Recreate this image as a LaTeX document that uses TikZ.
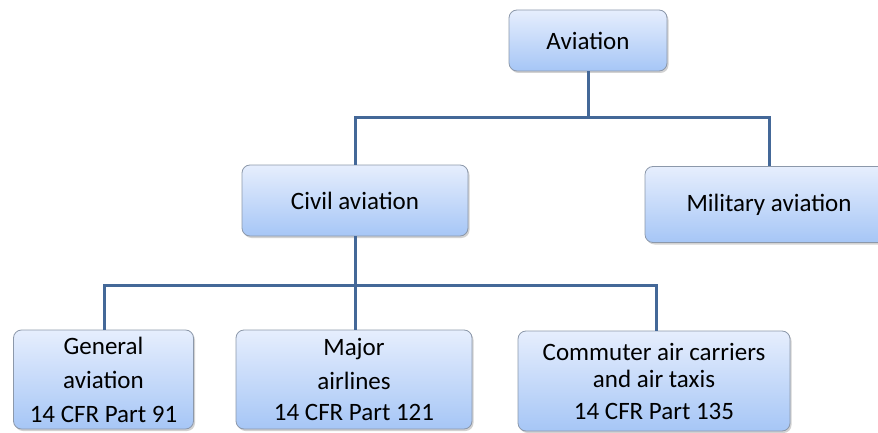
\documentclass[tikz,border=0pt]{standalone}
\usepackage{fontspec}
\setmainfont{Carlito}
\usetikzlibrary{shadows}
\definecolor{boxtop}{RGB}{230,238,253}
\definecolor{boxbot}{RGB}{166,198,246}
\definecolor{boxedge}{RGB}{140,152,170}
\definecolor{conncol}{RGB}{68,104,152}
\tikzset{
  orgbox/.style={rectangle, rounded corners=8pt, draw=boxedge, line width=0.8pt,
    top color=boxtop, bottom color=boxbot, align=center, inner sep=0pt,
    drop shadow={shadow xshift=1.5pt, shadow yshift=-2pt, fill=black!35, opacity=0.5},
    font=\fontsize{25}{34}\selectfont},
  conn/.style={draw=conncol, line width=3pt}
}
\begin{document}
\begin{tikzpicture}[x=1pt,y=-1pt]
\useasboundingbox (0,0) rectangle (878,433);
% boxes
\node[orgbox, minimum width=158pt, minimum height=61pt] (av) at (588,40.5) {Aviation};
\node[orgbox, minimum width=226pt, minimum height=71pt] (civ) at (355,200.5) {Civil aviation};
\node[orgbox, minimum width=248pt, minimum height=76pt] (mil) at (769,204.5) {Military aviation};
\node[orgbox, minimum width=180pt, minimum height=99pt] (gen) at (103.5,379.5) {General\\aviation\\14 CFR Part 91};
\node[orgbox, minimum width=236pt, minimum height=99pt] (maj) at (354,379.5) {Major\\airlines\\[-3pt]14 CFR Part 121};
\node[orgbox, minimum width=272pt, minimum height=100pt] (com) at (654,381) {Commuter air carriers\\[-7pt]and air taxis\\[-2pt]14 CFR Part 135};
% junctions
\coordinate (j1) at (588,118);
\coordinate (j2) at (355,285);
% connectors
\draw[conn] (av.south) -- (j1);
\draw[conn] (civ.north) |- (j1) -| (mil.north);
\draw[conn] (civ.south) -- (j2);
\draw[conn] ([xshift=0.5pt]gen.north) |- (j2) -| ([xshift=2pt]com.north);
\draw[conn] (j2) -- ([xshift=1pt]maj.north);
\end{tikzpicture}
\end{document}
